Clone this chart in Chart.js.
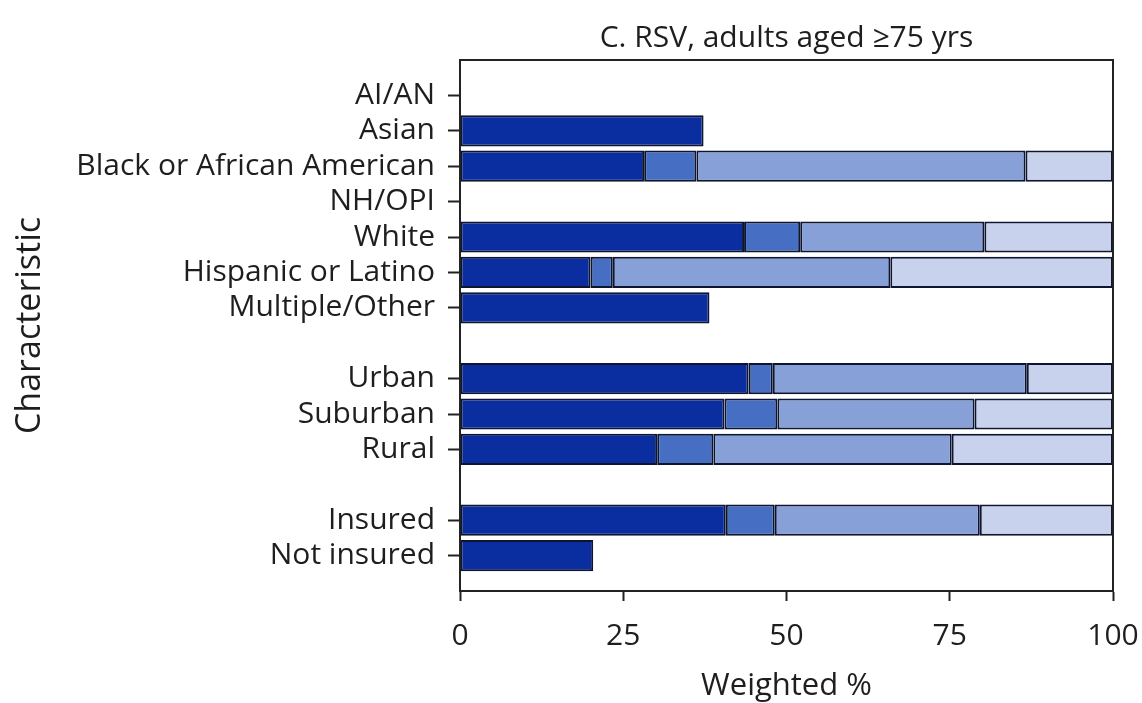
<!DOCTYPE html>
<html>
<head>
<meta charset="utf-8">
<script src="https://cdn.jsdelivr.net/npm/chart.js@4"></script>
<style>
  html, body { margin: 0; padding: 0; background: #fff; }
  #wrap { width: 1142px; height: 703px; }
</style>
</head>
<body>
<div id="wrap"><canvas id="grafico" width="1142" height="703"></canvas></div>
<script>
// categorias (linhas vazias = espaço entre grupos)
const categorias = ['', 'AI/AN', 'Asian', 'Black or African American', 'NH/OPI', 'White',
  'Hispanic or Latino', 'Multiple/Other', ' ', 'Urban', 'Suburban', 'Rural', '  ',
  'Insured', 'Not insured', ''];

// valores (weighted %)
const serie1 = [null, null, 37.3, 28.2, null, 43.5, 20.0, 38.2, null, 44.2, 40.5, 30.2, null, 40.7, 20.4, null];
const serie2 = [null, null, null, 8.0, null, 8.6, 3.4, null, null, 3.7, 8.1, 8.6, null, 7.5, null, null];
const serie3 = [null, null, null, 50.4, null, 28.2, 42.5, null, null, 38.9, 30.2, 36.5, null, 31.4, null, null];
const serie4 = [null, null, null, 13.4, null, 19.7, 34.1, null, null, 13.2, 21.2, 24.7, null, 20.4, null, null];

const ticksX = [0, 25, 50, 75, 100];

const titulo = 'C. RSV, adults aged \u226575 yrs';
const cores = ['#0a2ea0', '#466ec3', '#87a0d8', '#c8d2ec'];
const fonte = 'Open Sans';
const corTexto = '#1e1e1e';

// moldura do gráfico + título centrado sobre a área do gráfico
const moldura = {
  id: 'moldura',
  afterDatasetsDraw(chart) {
    const a = chart.chartArea;
    const c = chart.ctx;
    c.save();
    c.strokeStyle = '#222';
    c.lineWidth = 2;
    c.strokeRect(a.left, a.top, a.right - a.left, a.bottom - a.top);
    c.fillStyle = corTexto;
    c.font = '30px "' + fonte + '"';
    c.textAlign = 'center';
    c.textBaseline = 'middle';
    c.fillText(titulo, (a.left + a.right) / 2, 38);
    c.restore();
  }
};

function ds(nome, dados, cor) {
  return {
    label: nome,
    data: dados,
    backgroundColor: cor,
    borderColor: '#0d1530',
    borderWidth: 2,
    borderSkipped: false,
    barPercentage: 0.88,
    categoryPercentage: 1.0
  };
}

const ctx = document.getElementById('grafico').getContext('2d');
const myChart = new Chart(ctx, {
  type: 'bar',
  data: {
    labels: categorias,
    datasets: [
      ds('1', serie1, cores[0]),
      ds('2', serie2, cores[1]),
      ds('3', serie3, cores[2]),
      ds('4', serie4, cores[3])
    ]
  },
  plugins: [moldura],
  options: {
    indexAxis: 'y',
    responsive: false,
    animation: false,
    layout: { padding: { left: 0, right: 29, top: 60, bottom: 0 } },
    plugins: {
      legend: { display: false },
      tooltip: { enabled: false },
      title: { display: false }
    },
    scales: {
      x: {
        type: 'linear',
        stacked: true,
        min: 0,
        max: 100,
        afterBuildTicks(scale) {
          scale.ticks = ticksX.map(v => ({ value: v }));
        },
        afterFit(scale) {
          scale.height = 112;
          scale.paddingLeft = 0;
          scale.paddingRight = 0;
        },
        border: { display: true, color: '#222', width: 2 },
        grid: { drawOnChartArea: false, drawTicks: true, tickLength: 10, tickColor: '#222', tickWidth: 2 },
        ticks: { color: corTexto, font: { family: fonte, size: 30 }, padding: 17 },
        title: {
          display: true,
          text: 'Weighted %',
          color: corTexto,
          font: { family: fonte, size: 31 },
          padding: { top: 0, bottom: -2 }
        }
      },
      y: {
        type: 'category',
        stacked: true,
        offset: false,
        afterFit(scale) { scale.width = 460; },
        border: { display: true, color: '#222', width: 2 },
        grid: {
          offset: false,
          drawOnChartArea: false,
          drawTicks: true,
          tickLength: 12,
          tickWidth: 2,
          tickColor: c => (categorias[c.index] || '').trim() === '' ? 'rgba(0,0,0,0)' : '#222'
        },
        ticks: { color: corTexto, font: { family: fonte, size: 30 }, padding: 13, autoSkip: false },
        title: {
          display: true,
          text: 'Characteristic',
          color: corTexto,
          font: { family: fonte, size: 34 },
          padding: { top: 10, bottom: 0 }
        }
      }
    }
  }
});
</script>
</body>
</html>
